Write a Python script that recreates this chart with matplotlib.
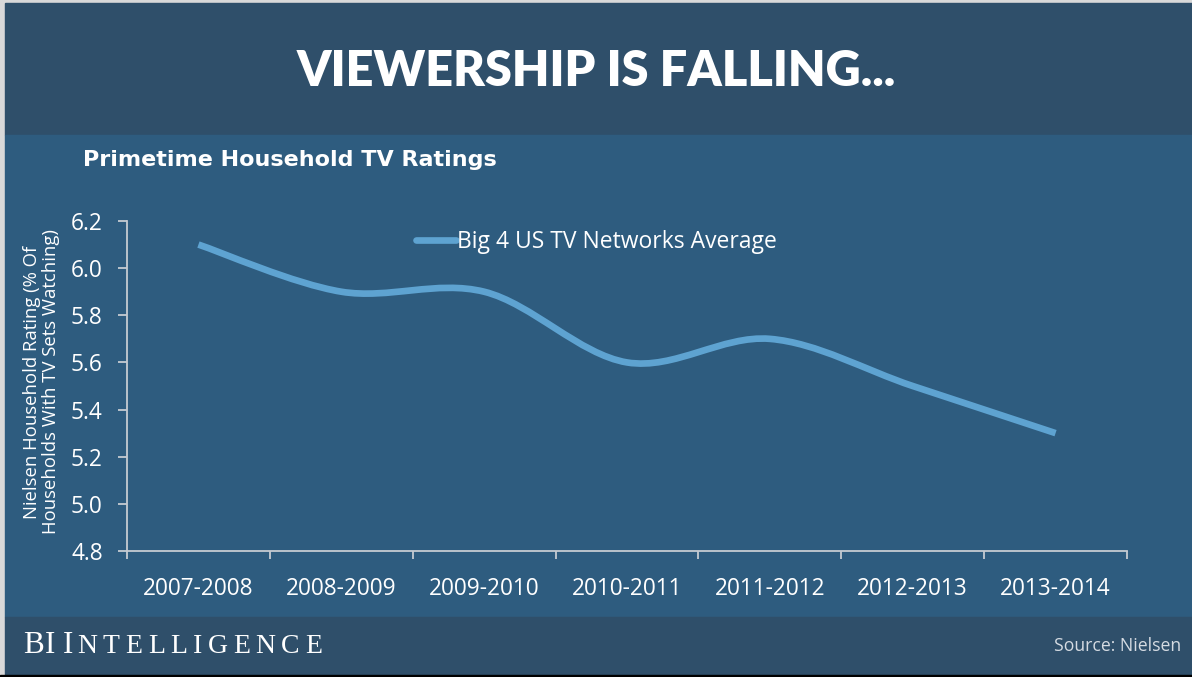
import numpy as np
import matplotlib.pyplot as plt
from matplotlib.path import Path
from matplotlib.patches import PathPatch, Rectangle
from matplotlib.lines import Line2D

# Primetime household ratings, big four US networks
seasons = ["2007-2008", "2008-2009", "2009-2010", "2010-2011",
           "2011-2012", "2012-2013", "2013-2014"]
ratings = [6.1, 5.9, 5.9, 5.6, 5.7, 5.5, 5.3]
y_ticks = [4.8, 5.0, 5.2, 5.4, 5.6, 5.8, 6.0, 6.2]

band_dark = "#2f4f6a"
band_main = "#2e5c7f"
line_blue = "#5ea3d1"
axis_grey = "#c5cbd2"


def smooth_path(xs, ys, k=1 / 6):
    """Bezier path through the points, same idea as a spreadsheet 'smoothed line'."""
    pts = np.column_stack([xs, ys]).astype(float)
    n = len(pts)
    verts = [pts[0]]
    codes = [Path.MOVETO]
    for i in range(n - 1):
        p0 = pts[i - 1] if i > 0 else pts[i]
        p1, p2 = pts[i], pts[i + 1]
        p3 = pts[i + 2] if i + 2 < n else pts[i + 1]
        c1 = p1 + (p2 - p0) * k
        c2 = p2 - (p3 - p1) * k
        verts += [c1, c2, p2]
        codes += [Path.CURVE4] * 3
    return Path(verts, codes)


def spaced_text(fig, x_px, y_px, s, tracking, **kw):
    """Write s one letter at a time with extra spacing (pixels)."""
    renderer = fig.canvas.get_renderer()
    for ch in s:
        t = fig.text(x_px / W, 1 - y_px / H, ch, ha="left", va="baseline", **kw)
        x_px += t.get_window_extent(renderer).width + tracking
    return x_px


W, H = 1192, 677
fig = plt.figure(figsize=(W / 100, H / 100), dpi=100)
fig.patch.set_facecolor("#d9d9d9")

# background bands live in their own axes in pixel units
bg = fig.add_axes([0, 0, 1, 1], zorder=-1)
bg.set_xlim(0, W)
bg.set_ylim(H, 0)
bg.axis("off")
bg.add_patch(Rectangle((5, 3), W - 5, 132, color=band_dark))
bg.add_patch(Rectangle((5, 135), W - 5, 482, color=band_main))
bg.add_patch(Rectangle((5, 617), W - 5, 58, color=band_dark))
bg.add_patch(Rectangle((0, 675), W, 2, color="black"))

fig.text(0.5, 1 - 72 / H, "VIEWERSHIP IS FALLING...", ha="center", va="center",
         color="white", fontsize=35, fontweight="heavy", family="Lato")
fig.text(83 / W, 1 - 160 / H, "Primetime Household TV Ratings", ha="left",
         va="center", color="white", fontsize=16, fontweight="bold",
         family="DejaVu Sans")

ax = fig.add_axes([127 / W, 1 - 551 / H, 1000 / W, 330 / H])
ax.set_facecolor("none")
ax.set_xlim(-0.5, 6.5)
ax.set_ylim(4.8, 6.2)

x = np.arange(len(seasons))
ax.add_patch(PathPatch(smooth_path(x, ratings), facecolor="none",
                       edgecolor=line_blue, lw=4.8, capstyle="butt"))

ax.set_yticks(y_ticks)
ax.set_yticklabels([f"{v:.1f}" for v in y_ticks])
ax.set_xticks(x)
ax.set_xticklabels(seasons)
ax.set_xticks(np.arange(-0.5, 7, 1), minor=True)
ax.tick_params(axis="x", which="major", length=0, pad=19)
ax.tick_params(axis="x", which="minor", length=6, width=1.3, color=axis_grey)
ax.tick_params(axis="y", length=6.5, width=1.3, color=axis_grey, pad=11)
for lab in ax.get_xticklabels() + ax.get_yticklabels():
    lab.set_color("white")
    lab.set_fontsize(16.3)
    lab.set_family("Open Sans")

for side in ["top", "right"]:
    ax.spines[side].set_visible(False)
for side in ["left", "bottom"]:
    ax.spines[side].set_color(axis_grey)
    ax.spines[side].set_linewidth(1.3)

ax.set_ylabel("Nielsen Household Rating (% Of\nHouseholds With TV Sets Watching)",
              color="white", fontsize=13.3, family="Open Sans", linespacing=1.05)
ax.yaxis.set_label_coords(60 / W, 1 - 382 / H, transform=fig.transFigure)

handle = Line2D([], [], color=line_blue, lw=4.8, solid_capstyle="round")
leg = ax.legend([handle], ["Big 4 US TV Networks Average"], frameon=False,
                loc="center left", bbox_to_anchor=(416 / W, 1 - 242 / H),
                bbox_transform=fig.transFigure, handlelength=1.75,
                handletextpad=0.05, borderaxespad=0, borderpad=0,
                prop={"family": "Open Sans", "size": 16.5})
for t in leg.get_texts():
    t.set_color("white")

# footer: BI wordmark in spaced small caps
serif = dict(color="white", family="Liberation Serif")
spaced_text(fig, 23, 653, "BI", 1, fontsize=22.5, **serif)
nx = spaced_text(fig, 63, 653, "I", 4, fontsize=22.5, **serif)
spaced_text(fig, nx, 653, "NTELLIGENCE", 5.5, fontsize=20, **serif)
fig.text(1181 / W, 1 - 646 / H, "Source: Nielsen", ha="right", va="center",
         color="#d5dbe2", fontsize=12.7, family="Open Sans")

fig.savefig("out.png", dpi=100, facecolor=fig.get_facecolor())
